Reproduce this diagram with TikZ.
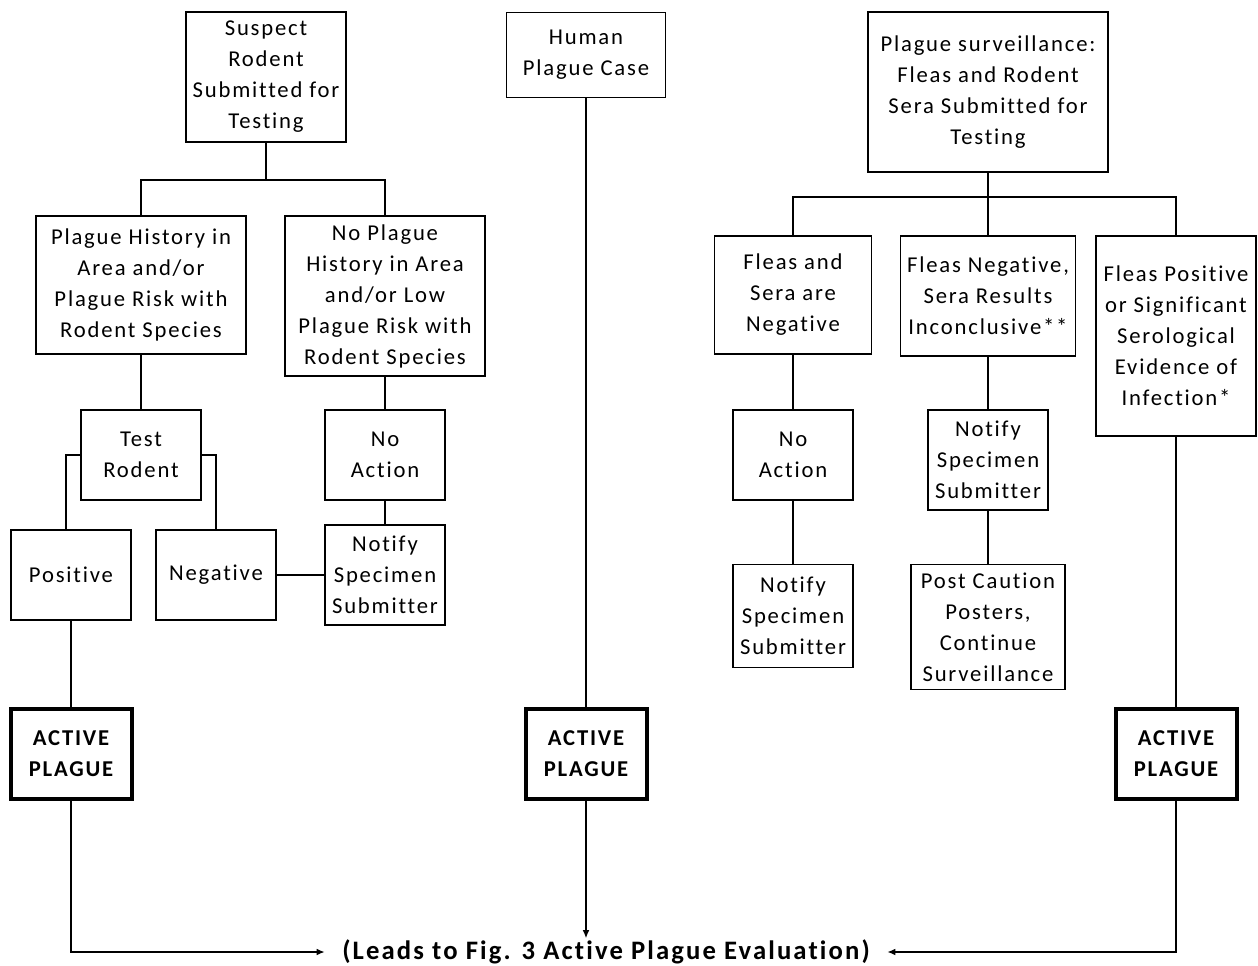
\documentclass[tikz,border=0pt]{standalone}
\usepackage{fontspec}
\setmainfont{Carlito}[LetterSpace=8,Ligatures=NoCommon]
\usetikzlibrary{arrows.meta}

\begin{document}
\begin{tikzpicture}[x=0.75pt,y=-0.75pt,
    box/.style 2 args={draw,line width=1pt,align=center,inner sep=0pt,
      minimum width=#1*0.75pt,minimum height=#2*0.75pt,
      font=\fontsize{17}{23.25}\selectfont},
    active/.style={box={121}{90},line width=3pt,
      font=\fontsize{17}{23.25}\selectfont\bfseries},
    link/.style={line width=1pt},
    lead/.style={link,-{Latex[length=6pt,width=5pt]}}]
  \useasboundingbox (0,0) rectangle (1258,966);

  \path
  (266,77) node[box={160}{130}](suspect) {Suspect\\Rodent\\Submitted for\\Testing}
  (586,55) node[box={159}{85}](human) {Human\\Plague Case}
  (988,92) node[box={240}{160}](surv) {Plague surveillance:\\Fleas and Rodent\\Sera Submitted for\\Testing}
  (141,285) node[box={210}{138}](hist) {Plague History in\\Area and/or\\Plague Risk with\\Rodent Species}
  (385,296) node[box={200}{160}](nohist) {No Plague\\History in Area\\and/or Low\\Plague Risk with\\Rodent Species}
  (141,455) node[box={120}{90}](test) {Test\\Rodent}
  (385,455) node[box={120}{90}](noactL) {No\\Action}
  (71,575) node[box={120}{90}](pos) {Positive}
  (216,575) node[box={120}{90}](neg) {Negative}
  (385,575) node[box={120}{100}](notifyL) {Notify\\Specimen\\Submitter}
  (71,754) node[active](actL) {ACTIVE\\PLAGUE}
  (586,754) node[active](actM) {ACTIVE\\PLAGUE}
  (1176,754) node[active](actR) {ACTIVE\\PLAGUE}
  (793,295) node[box={157}{118}](bothneg) {Fleas and\\Sera are\\Negative}
  (988,296) node[box={175}{120}](incon) {Fleas Negative,\\Sera Results\\Inconclusive**}
  (1176,336) node[box={160}{200}](fleapos) {Fleas Positive\\or Significant\\Serological\\Evidence of\\Infection*}
  (793,455) node[box={120}{90}](noactR) {No\\Action}
  (988,460) node[box={120}{100}](notifyM) {Notify\\Specimen\\Submitter}
  (793,616) node[box={120}{103}](notifyR) {Notify\\Specimen\\Submitter}
  (988,627) node[box={154}{125}](poster) {Post Caution\\Posters,\\Continue\\Surveillance}
  (606,952) node[font=\fontsize{20}{22}\selectfont\bfseries,inner xsep=13pt,inner ysep=1pt](leads) {(Leads to Fig. 3 Active Plague Evaluation)};

  % forks under the top boxes
  \coordinate (forkL) at (266,180);
  \coordinate (forkR) at (988,197);
  \draw[link] (suspect.south) -- (forkL);
  \draw[link] (hist.north) |- (forkL) -| (nohist.north);
  \draw[link] (surv.south) -- (forkR);
  \draw[link] (bothneg.north) |- (forkR) -| (fleapos.north);
  \draw[link] (forkR) -- (incon.north);

  % left branch
  \draw[link] (hist.south) -- (test.north);
  \draw[link] (test.west) -| ([xshift=-3.75pt]pos.north);
  \draw[link] (test.east) -| (neg.north);
  \draw[link] (neg.east) -- (notifyL.west);
  \draw[link] (nohist.south) -- (noactL.north);
  \draw[link] (noactL.south) -- (notifyL.north);
  \draw[link] (pos.south) -- (actL.north);

  % middle
  \draw[link] (human.south) -- (actM.north);

  % right branch
  \draw[link] (bothneg.south) -- (noactR.north);
  \draw[link] (noactR.south) -- (notifyR.north);
  \draw[link] (incon.south) -- (notifyM.north);
  \draw[link] (notifyM.south) -- (poster.north);
  \draw[link] (fleapos.south) -- (actR.north);

  % to the evaluation
  \draw[lead] (actL.south) |- (leads.west);
  \draw[lead] (actM.south) -- (actM.south |- leads.north);
  \draw[lead] (actR.south) |- (leads.east);
\end{tikzpicture}
\end{document}
